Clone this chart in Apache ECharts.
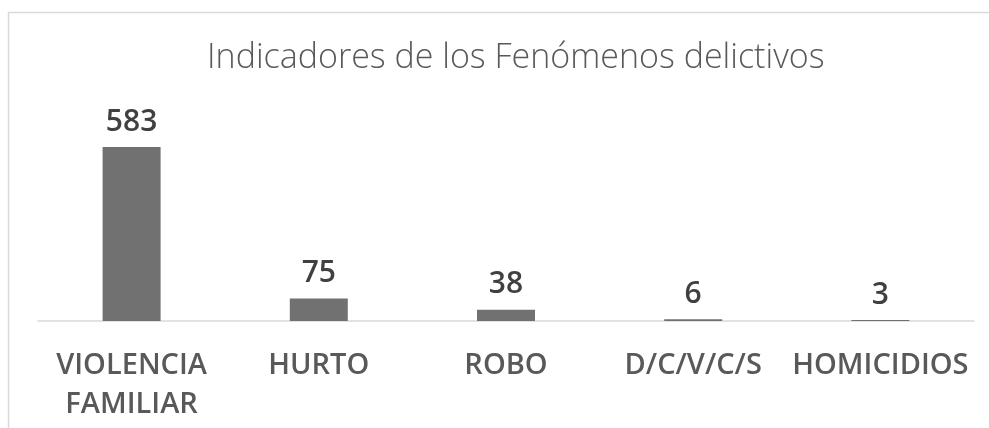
<!DOCTYPE html>
<html>
<head>
<meta charset="utf-8">
<script src="https://cdn.jsdelivr.net/npm/echarts@6/dist/echarts.min.js"></script>
<style>
  html, body { margin: 0; padding: 0; background: #fff; }
  #chart { width: 989px; height: 428px; }
</style>
</head>
<body>
<div id="chart"></div>
<script>
  var titleText = 'Indicadores de los Fenómenos delictivos';
  var categories = ['VIOLENCIA\nFAMILIAR', 'HURTO', 'ROBO', 'D/C/V/C/S', 'HOMICIDIOS'];
  var values = [583, 75, 38, 6, 3];

  var chart = echarts.init(document.getElementById('chart'));

  var option = {
    backgroundColor: '#ffffff',
    animation: false,
    // marco gris del gráfico
    graphic: [
      {
        type: 'rect',
        shape: { x: 8.5, y: 12.5, width: 990, height: 430 },
        style: { fill: 'none', stroke: '#d9d9d9', lineWidth: 1.5 },
        silent: true
      }
    ],
    title: {
      text: titleText,
      left: 202,
      top: 36,
      textStyle: {
        fontFamily: 'Open Sans',
        fontWeight: 300,
        fontSize: 34,
        color: '#595959'
      }
    },
    grid: {
      left: 38,
      right: 15,
      top: 127,
      bottom: 107
    },
    xAxis: {
      type: 'category',
      data: categories,
      axisLine: { lineStyle: { color: '#d9d9d9', width: 1.5 } },
      axisTick: { show: false },
      axisLabel: {
        interval: 0,
        margin: 25,
        fontFamily: 'Open Sans',
        fontWeight: 600,
        fontSize: 29,
        lineHeight: 39,
        color: '#595959'
      }
    },
    yAxis: {
      type: 'value',
      min: 0,
      max: 650,
      show: false,
      splitLine: { show: false }
    },
    series: [
      {
        type: 'bar',
        data: values,
        barWidth: 58,
        itemStyle: { color: '#717171' },
        label: {
          show: true,
          position: 'top',
          distance: 10,
          fontFamily: 'Open Sans',
          fontWeight: 600,
          fontSize: 30,
          color: '#404040'
        }
      }
    ]
  };

  chart.setOption(option);
</script>
</body>
</html>
